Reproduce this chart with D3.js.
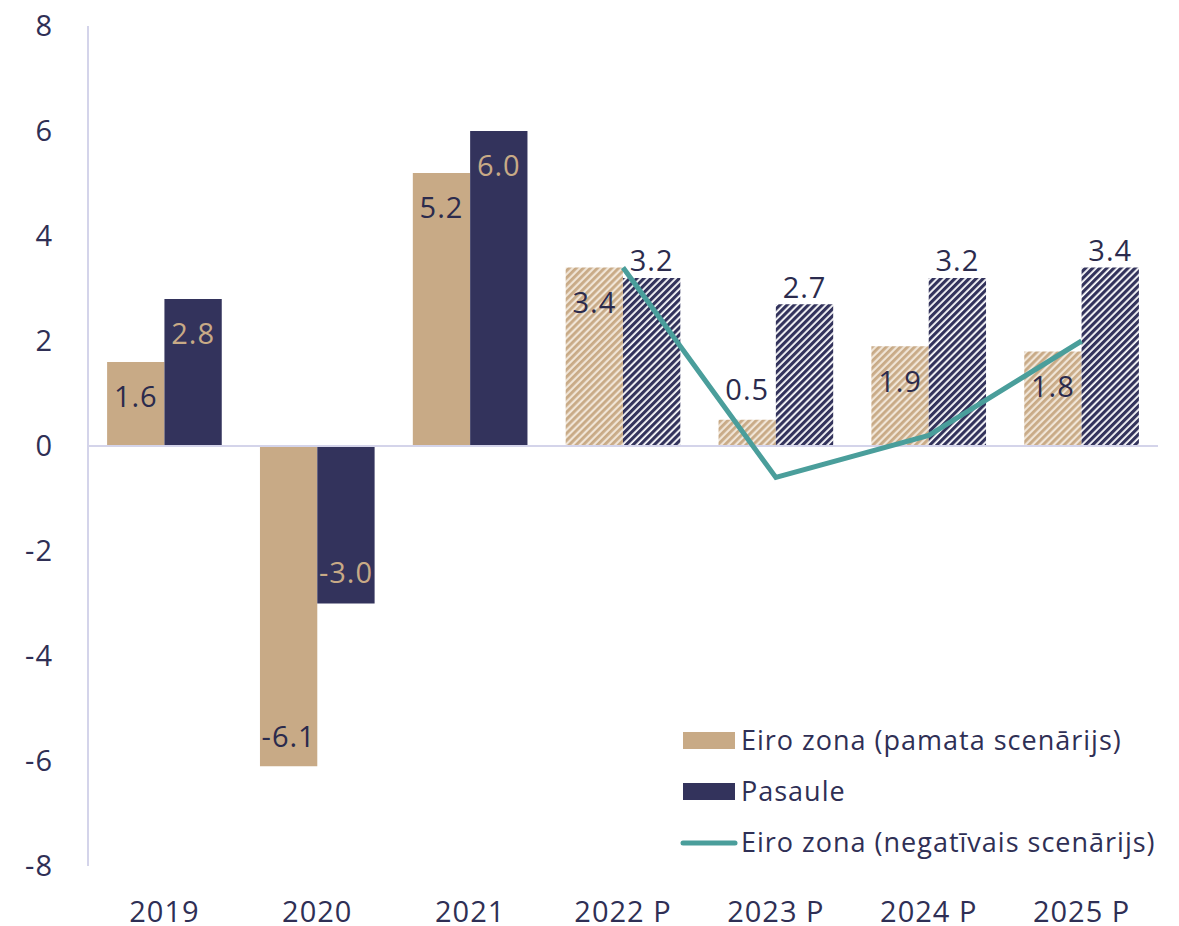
<!DOCTYPE html>
<html>
<head>
  <meta charset="utf-8">
  <style>
    body { margin: 0; background: #fff; }
    text { font-family: "Open Sans", sans-serif; fill: #2f2f55; letter-spacing: 1px; }
  </style>
  <script src="https://cdn.jsdelivr.net/npm/d3@7"></script>
</head>
<body>
  <div id="chart"></div>
  <script>
    // data
    var years = ["2019", "2020", "2021", "2022 P", "2023 P", "2024 P", "2025 P"];
    var euroBase = [1.6, -6.1, 5.2, 3.4, 0.5, 1.9, 1.8];
    var world = [2.8, -3.0, 6.0, 3.2, 2.7, 3.2, 3.4];
    var euroNegYears = ["2022 P", "2023 P", "2024 P", "2025 P"];
    var euroNeg = [3.4, -0.6, 0.2, 2.0];
    var projected = [false, false, false, true, true, true, true];
    var yTicks = [-8, -6, -4, -2, 0, 2, 4, 6, 8];
    var seriesNames = ["Eiro zona (pamata scenārijs)", "Pasaule", "Eiro zona (negatīvais scenārijs)"];

    var tan = "#c8aa86", navy = "#33335c", teal = "#4a9e9b";

    var W = 1179, H = 926;
    var margin = { top: 26, right: 21, bottom: 60, left: 88 };
    var width = W - margin.left - margin.right;
    var height = H - margin.top - margin.bottom;

    var svg = d3.select("#chart").append("svg")
      .attr("width", W)
      .attr("height", H);

    // hatch patterns for projected bars
    var defs = svg.append("defs");
    function hatch(id, bg, fg, w) {
      var p = defs.append("pattern")
        .attr("id", id)
        .attr("patternUnits", "userSpaceOnUse")
        .attr("width", 5)
        .attr("height", 5)
        .attr("patternTransform", "rotate(45)");
      p.append("rect").attr("width", 5).attr("height", 5).attr("fill", bg);
      p.append("rect").attr("width", w).attr("height", 5).attr("fill", fg);
    }
    hatch("hatchTan", "#f0e5d7", tan, 2.8);
    hatch("hatchNavy", "#ffffff", navy, 3.2);

    var g = svg.append("g")
      .attr("transform", "translate(" + margin.left + "," + margin.top + ")");

    var x = d3.scaleBand().domain(years).range([0, width]).paddingInner(0.25).paddingOuter(0.125);
    var x0 = d3.scaleBand().domain(years).range([0, width]);
    var y = d3.scaleLinear().domain([-8, 8]).range([height, 0]);
    var bw = x.bandwidth() / 2;

    // y axis
    g.append("line").attr("x1", 0).attr("x2", 0).attr("y1", 0).attr("y2", height)
      .attr("stroke", "#d4d4ea").attr("stroke-width", 2);
    g.selectAll("text.ytick").data(yTicks).enter().append("text")
      .attr("x", -35)
      .attr("y", function(d) { return y(d); })
      .attr("dy", "0.36em")
      .attr("text-anchor", "end")
      .style("font-size", "29px")
      .text(function(d) { return d; });

    // x tick labels
    g.selectAll("text.xlab").data(years).enter().append("text")
      .attr("x", function(d) { return x0(d) + x0.bandwidth() / 2; })
      .attr("y", height + 56)
      .attr("text-anchor", "middle")
      .style("font-size", "29px")
      .text(function(d) { return d; });

    // bars
    function barY(v) { return v >= 0 ? y(v) : y(0); }
    function barH(v) { return Math.abs(y(v) - y(0)); }

    g.selectAll("rect.eu").data(years).enter().append("rect")
      .attr("x", function(d) { return x(d); })
      .attr("y", function(d, i) { return barY(euroBase[i]); })
      .attr("width", bw)
      .attr("height", function(d, i) { return barH(euroBase[i]); })
      .attr("fill", function(d, i) { return projected[i] ? "url(#hatchTan)" : tan; });

    g.selectAll("rect.wo").data(years).enter().append("rect")
      .attr("x", function(d) { return x(d) + bw; })
      .attr("y", function(d, i) { return barY(world[i]); })
      .attr("width", bw)
      .attr("height", function(d, i) { return barH(world[i]); })
      .attr("fill", function(d, i) { return projected[i] ? "url(#hatchNavy)" : navy; });

    // zero line
    g.append("line")
      .attr("x1", 0).attr("x2", width)
      .attr("y1", y(0)).attr("y2", y(0))
      .attr("stroke", "#d4d4ea").attr("stroke-width", 2);

    // negative scenario line
    var line = d3.line()
      .x(function(d) { return x0(d[0]) + x0.bandwidth() / 2; })
      .y(function(d) { return y(d[1]); });
    g.append("path")
      .datum(euroNegYears.map(function(d, i) { return [d, euroNeg[i]]; }))
      .attr("d", line)
      .attr("fill", "none")
      .attr("stroke", teal)
      .attr("stroke-width", 5);

    // value labels
    function labelY(v, inside, off) {
      if (inside) return v >= 0 ? y(v) + 35 : y(v) - 31;
      return y(v) - off;
    }
    g.selectAll("text.eul").data(years).enter().append("text")
      .attr("x", function(d) { return x(d) + bw / 2; })
      .attr("y", function(d, i) { return labelY(euroBase[i], euroBase[i] > 1, 30); })
      .attr("dy", "0.36em")
      .attr("text-anchor", "middle")
      .style("font-size", "29px")
      .style("fill", "#2b2b4d")
      .text(function(d, i) { return euroBase[i].toFixed(1); });

    g.selectAll("text.wol").data(years).enter().append("text")
      .attr("x", function(d) { return x(d) + bw * 1.5; })
      .attr("y", function(d, i) { return labelY(world[i], !projected[i], 17); })
      .attr("dy", "0.36em")
      .attr("text-anchor", "middle")
      .style("font-size", "29px")
      .style("fill", function(d, i) { return projected[i] ? "#2b2b4d" : tan; })
      .text(function(d, i) { return world[i].toFixed(1); });

    // legend
    var legend = svg.append("g").attr("transform", "translate(683,740)");
    var rows = legend.selectAll("g").data(seriesNames).enter().append("g")
      .attr("transform", function(d, i) { return "translate(0," + (i * 51) + ")"; });
    rows.each(function(d, i) {
      var r = d3.select(this);
      if (i < 2) {
        r.append("rect").attr("x", 0).attr("y", -8).attr("width", 52).attr("height", 17)
          .attr("fill", i === 0 ? tan : navy);
      } else {
        r.append("line").attr("x1", 0).attr("x2", 52).attr("y1", 1).attr("y2", 1)
          .attr("stroke", teal).attr("stroke-width", 5).attr("stroke-linecap", "round");
      }
      r.append("text").attr("x", 58).attr("y", 0).attr("dy", "0.36em")
        .style("font-size", "27px")
        .text(d);
    });
  </script>
</body>
</html>
